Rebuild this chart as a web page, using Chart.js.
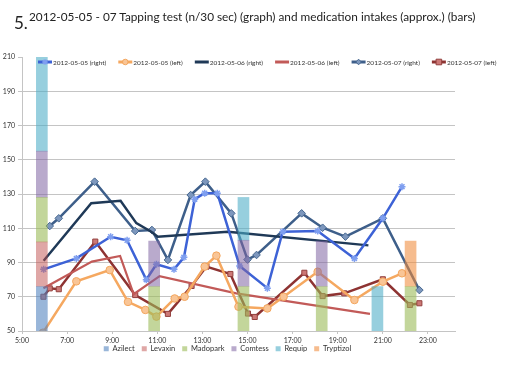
<!DOCTYPE html>
<html><head><meta charset="utf-8">
<script src="https://cdn.jsdelivr.net/npm/chart.js@4.4.1/dist/chart.umd.min.js"></script>
<style>
html,body{margin:0;padding:0;background:#fff;}
#wrap{position:relative;width:507px;height:380px;overflow:hidden;font-family:Lato,sans-serif;color:#222}
#num{position:absolute;left:14px;top:14px;font-size:17px;line-height:17px;white-space:nowrap}
#ttl{position:absolute;left:29px;top:11px;font-size:11.8px;line-height:11.8px;white-space:nowrap}
canvas{position:absolute;left:0;top:0}
</style></head><body>
<div id="wrap"><canvas id="c" width="507" height="380"></canvas><div id="num">5.</div><div id="ttl">2012-05-05 - 07 Tapping test (n/30 sec) (graph) and medication intakes (approx.) (bars)</div></div>
<script>
// ---- data ----
const hourTicks = [5, 7, 9, 11, 13, 15, 17, 19, 21, 23];
const valueTicks = [50, 70, 90, 110, 130, 150, 170, 190, 210];

const seriesNames = ['2012-05-05 (right)', '2012-05-05 (left)', '2012-05-06 (right)', '2012-05-06 (left)', '2012-05-07 (right)', '2012-05-07 (left)'];

const t0505R = [5.96, 7.41, 8.93, 9.66, 10.51, 10.96, 11.74, 12.18, 12.66, 13.1, 13.66, 14.65, 15.88, 16.56, 18.11, 19.74, 21.0, 21.85];
const v0505R = [86, 92.4, 105, 103, 80, 89, 86, 93, 127, 130.5, 130.5, 88, 75, 108, 108.4, 92.4, 115.8, 134.3];

const t0505L = [5.93, 7.41, 8.89, 9.7, 10.47, 10.96, 11.77, 12.21, 13.1, 13.62, 14.6, 15.88, 16.6, 18.11, 19.74, 21.0, 21.85];
const v0505L = [49, 79, 85.6, 67, 62.3, 58.4, 69, 70, 87.6, 94, 64.2, 63.2, 70, 84.6, 68.1, 78.8, 83.7];

const t0506R = [5.96, 8.07, 9.37, 10.07, 10.73, 11.02, 14.13, 20.36];
const v0506R = [91, 124.6, 126, 113, 108, 105, 108, 100];

const t0506L = [5.95, 8.1, 9.35, 9.95, 11.1, 14.5, 20.43];
const v0506L = [75, 90.5, 93.8, 71.5, 82, 72, 60];

const t0507R = [6.23, 6.63, 8.22, 10.02, 10.76, 11.47, 12.48, 13.13, 14.28, 15.0, 15.4, 17.4, 18.33, 19.34, 21.0, 22.62];
const v0507R = [111.3, 115.8, 137.2, 108.4, 109, 91.5, 129.4, 137.2, 118.7, 91.7, 94.4, 118.7, 110.3, 105.1, 115.8, 73.9];

const t0507L = [5.95, 6.23, 6.63, 8.25, 10.02, 11.47, 12.52, 13.18, 14.24, 15.02, 15.32, 17.52, 18.33, 19.29, 21.0, 22.2, 22.62];
const v0507L = [70, 74.9, 74.4, 102.2, 71, 60, 76.3, 87.6, 83.3, 60.2, 58.2, 84, 70.4, 72, 80.2, 65.2, 66.2];

const medNames = ['Azilect', 'Levaxin', 'Madopark', 'Comtess', 'Requip', 'Tryptizol'];
const intakeTimes = [5.88, 10.86, 14.82, 18.29, 20.76, 22.23];
const azilect   = [76, null, null, null, null, null];
const levaxin   = [26, null, null, null, null, null];
const madopark  = [26, 76, 76, 76, null, 76];
const comtess   = [27, 26.5, 27, 26.5, null, null];
const requip    = [60, null, 25, null, 76, null];
const tryptizol = [null, null, null, null, null, 26.5];

// ---- build ----
const pts = (t, v) => t.map((x, i) => ({x: x, y: v[i]}));
const lineTimes = [t0505R, t0505L, t0506R, t0506L, t0507R, t0507L];
const lineVals = [v0505R, v0505L, v0506R, v0506L, v0507R, v0507L];
const lineStyles = [
  {borderColor: '#3d62d6', borderWidth: 2.5, pointStyle: 'star', pointRadius: 3.5, pointBorderWidth: 1.5, pointBackgroundColor: '#7f9ff0', pointBorderColor: '#7f9ff0'},
  {borderColor: '#f5a860', borderWidth: 2.5, pointStyle: 'circle', pointRadius: 3.8, pointBorderWidth: 1, pointBackgroundColor: '#f9c596', pointBorderColor: '#f3a65e'},
  {borderColor: '#1f3957', borderWidth: 2.5, pointStyle: 'circle', pointRadius: 0, pointBorderWidth: 0, pointBackgroundColor: '#1f3957', pointBorderColor: '#1f3957'},
  {borderColor: '#c25a58', borderWidth: 2.2, pointStyle: 'circle', pointRadius: 0, pointBorderWidth: 0, pointBackgroundColor: '#c25a58', pointBorderColor: '#c25a58'},
  {borderColor: '#3e5f8a', borderWidth: 2.5, pointStyle: 'rectRot', pointRadius: 3.8, pointBorderWidth: 1, pointBackgroundColor: '#7d97bd', pointBorderColor: '#46678f'},
  {borderColor: '#8e3332', borderWidth: 2.5, pointStyle: 'rect', pointRadius: 3.6, pointBorderWidth: 1, pointBackgroundColor: '#cc7876', pointBorderColor: '#93403e'}
];
const medVals = [azilect, levaxin, madopark, comtess, requip, tryptizol];
const medColors = ['rgba(79,129,189,0.58)', 'rgba(192,80,77,0.5)', 'rgba(155,187,89,0.6)', 'rgba(128,100,162,0.55)', 'rgba(75,172,198,0.58)', 'rgba(240,140,60,0.58)'];

const datasets = [];
medNames.forEach((n, i) => {
  datasets.push({type: 'bar', label: n, data: pts(intakeTimes, medVals[i]), backgroundColor: medColors[i], borderWidth: 0,
    barThickness: 11, stack: 'meds', yAxisID: 'yBar', xAxisID: 'x', order: 0});
});
seriesNames.forEach((n, i) => {
  datasets.push(Object.assign({type: 'line', label: n, data: pts(lineTimes[i], lineVals[i]), tension: 0, fill: false,
    yAxisID: 'y', xAxisID: 'x', order: 1}, lineStyles[i]));
});

function drawMarker(ctx, style, x, y, r, fill, stroke) {
  ctx.save();
  ctx.fillStyle = fill; ctx.strokeStyle = stroke; ctx.lineWidth = 1;
  ctx.beginPath();
  if (style === 'circle') { ctx.arc(x, y, r, 0, Math.PI * 2); ctx.fill(); ctx.stroke(); }
  else if (style === 'rect') { ctx.rect(x - r, y - r, 2 * r, 2 * r); ctx.fill(); ctx.stroke(); }
  else if (style === 'rectRot') { ctx.moveTo(x, y - r); ctx.lineTo(x + r, y); ctx.lineTo(x, y + r); ctx.lineTo(x - r, y); ctx.closePath(); ctx.fill(); ctx.stroke(); }
  else if (style === 'star') {
    ctx.lineWidth = 1.3;
    for (let k = 0; k < 4; k++) { const a = k * Math.PI / 4; ctx.moveTo(x - r * Math.cos(a), y - r * Math.sin(a)); ctx.lineTo(x + r * Math.cos(a), y + r * Math.sin(a)); }
    ctx.stroke();
  }
  ctx.restore();
}

const topLegend = {
  id: 'topLegend',
  afterDraw(chart) {
    const ctx = chart.ctx;
    ctx.save();
    ctx.font = '6.5px Lato';
    ctx.textBaseline = 'middle';
    let x = 38; const y = 62;
    chart.data.datasets.forEach(ds => {
      if (ds.type !== 'line') return;
      ctx.strokeStyle = ds.borderColor; ctx.lineWidth = 3;
      ctx.beginPath(); ctx.moveTo(x, y); ctx.lineTo(x + 14, y); ctx.stroke();
      if (ds.pointRadius > 0) drawMarker(ctx, ds.pointStyle, x + 7, y, 2.8, ds.pointBackgroundColor, ds.pointBorderColor);
      ctx.fillStyle = '#333';
      ctx.fillText(ds.label, x + 15, y + 0.5);
      x += 15 + ctx.measureText(ds.label).width + 12;
    });
    ctx.restore();
  }
};

// pull the bottom legend up, close under the time labels
const legendShift = {
  id: 'legendShift',
  afterLayout(chart) {
    const L = chart.legend;
    if (L) { L.top -= 7; L.bottom -= 7; }
  }
};

const gridCol = '#c4c4c4';
new Chart(document.getElementById('c'), {
  data: {datasets: datasets},
  options: {
    responsive: false, animation: false, devicePixelRatio: 1,
    layout: {padding: {top: 57, right: 52, bottom: 10.5, left: 0}},
    plugins: {
      tooltip: {enabled: false},
      legend: {
        position: 'bottom',
        labels: {
          filter: (item, data) => data.datasets[item.datasetIndex].type === 'bar',
          boxWidth: 5, boxHeight: 5, padding: 7,
          font: {family: 'Lato', size: 7.5}, color: '#333'
        }
      }
    },
    scales: {
      x: {
        type: 'linear', min: 5, max: 24.2, offset: false,
        afterBuildTicks: s => { s.ticks = hourTicks.map(v => ({value: v})); },
        afterFit: s => { s.height = 14; },
        ticks: {callback: v => v + ':00', font: {family: 'Lato', size: 7}, color: '#333', padding: 3, maxRotation: 0, autoSkip: false},
        grid: {drawOnChartArea: false, offset: false, tickLength: 3, color: gridCol},
        border: {color: gridCol}
      },
      y: {
        type: 'linear', position: 'left', min: 50, max: 210,
        afterBuildTicks: s => { s.ticks = valueTicks.map(v => ({value: v})); },
        afterFit: s => { s.width = 22; },
        ticks: {font: {family: 'Lato', size: 7}, color: '#333', padding: 3},
        grid: {color: c => (c.tick && c.tick.value === 210) ? 'rgba(0,0,0,0)' : gridCol, tickColor: gridCol, tickLength: 4, lineWidth: 1},
        border: {color: gridCol}
      },
      yBar: {type: 'linear', display: false, min: 50, max: 210, stacked: true}
    }
  },
  plugins: [topLegend, legendShift]
});
</script>
</body></html>
